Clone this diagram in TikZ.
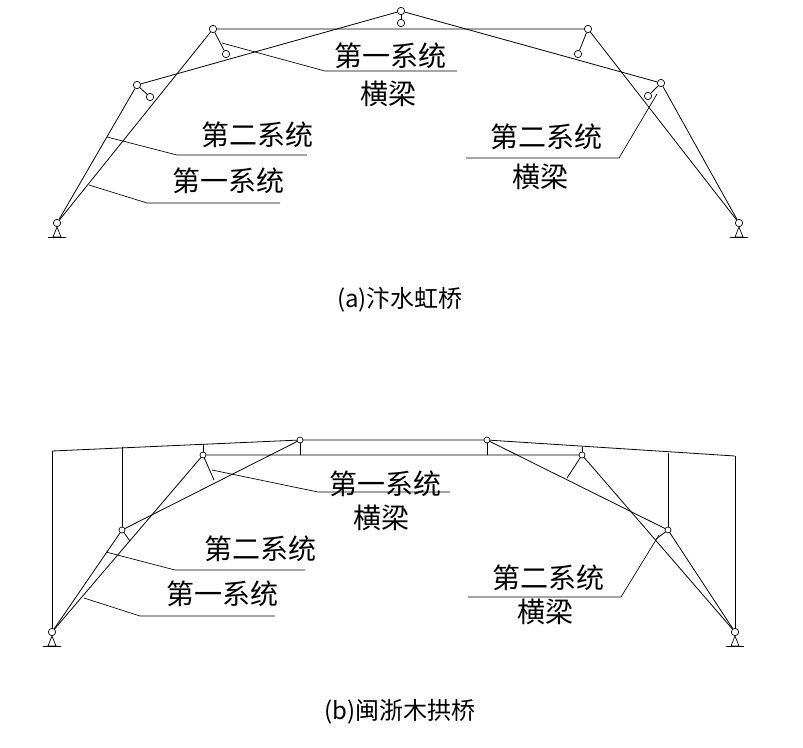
\documentclass[tikz,border=0pt]{standalone}
\usepackage{fontspec}
\newfontfamily\cjk{Noto Sans CJK SC}
\usetikzlibrary{positioning,calc}
\tikzset{
    member/.style = {line width=.6pt},
    hinge/.style = {circle, draw, fill=white, line width=.5pt, inner sep=0pt, minimum size=5.5pt},
    pt/.style = {inner sep=0pt, minimum size=0pt},
    leader/.style = {line width=.5pt},
    lbl/.style = {font=\cjk\fontsize{21}{24}\selectfont, inner sep=0pt},
    captxt/.style = {font=\cjk\fontsize{18}{20}\selectfont, inner sep=0pt}
}
\newcommand{\support}[1]{%
    \draw[line width=.5pt] (#1.south) -- ++(-4,10) -- ++(8,0) -- cycle;
    \draw[line width=.6pt] ($(#1.south)+(-9,10)$) -- ++(18,0);}
\begin{document}
\begin{tikzpicture}[x=.75pt, y=-.75pt]
    \useasboundingbox (0,0) rectangle (803,747);

    % (a)
    \node[hinge] (a-l) at (57,223) {};
    \node[hinge] (a-r) at (739,223) {};
    \support{a-l} \support{a-r}
    \node[hinge] (a-1l) at (213,29) {};
    \node[hinge] (a-1r) at (588,29) {};
    \node[hinge] (a-2l) at (137,85) {};
    \node[hinge] (a-2r) at (661,83) {};
    \node[hinge] (a-top) at (401,11) {};
    \node[hinge] (a-topb) at (401,23) {};
    \node[hinge] (a-k1) at (150,97) {};
    \node[hinge] (a-k2) at (226,54) {};
    \node[hinge] (a-k3) at (578,54) {};
    \node[hinge] (a-k4) at (648,96) {};
    \draw[member] (a-l) -- (a-1l) -- (a-1r) -- (a-r);
    \draw[member] (a-l) -- (a-2l) -- (a-top) -- (a-2r) -- (a-r);
    \draw[member] (a-top) -- (a-topb);
    \draw[member] (a-2l) -- (a-k1) (a-1l) -- (a-k2) (a-1r) -- (a-k3) (a-2r) -- (a-k4);

    \node[lbl] (a-t1) at (390,56) {第一系统};
    \node[lbl] (a-t2) at (388,94) {横梁};
    \node[lbl] (a-t3) at (257,135) {第二系统};
    \node[lbl] (a-t4) at (228,181) {第一系统};
    \node[lbl] (a-t5) at (546,137) {第二系统};
    \node[lbl] (a-t6) at (540,177) {横梁};
    \coordinate (a-c1) at (222,43);
    \coordinate (a-c3) at (107,137);
    \coordinate (a-c4) at (89,185);
    \coordinate (a-c5) at (657,94);
    \draw[leader] (a-c1) -- (325,71) -- (457,71);
    \draw[leader] (a-c3) -- (177,155) -- (307,155);
    \draw[leader] (a-c4) -- (147,203) -- (280,203);
    \draw[leader] (466,158) -- (619,158) -- (a-c5);
    \node[captxt] (a-cap) at (400,300) {(a)汴水虹桥};

    % (b)
    \node[hinge] (b-l) at (52,632) {};
    \node[hinge] (b-r) at (735,632) {};
    \support{b-l} \support{b-r}
    \node[pt] (b-1l) at (203,455) {};
    \node[pt] (b-1r) at (582,455) {};
    \node[pt] (b-2l) at (122,530) {};
    \node[pt] (b-2r) at (668,530) {};
    \node[pt] (b-tl) at (300,440) {};
    \node[pt] (b-tr) at (487,440) {};
    \node[pt] (b-ol) at (52,451) {};
    \node[pt] (b-or) at (735,456) {};
    \draw[member] (b-l) -- (b-1l) -- (b-1r) -- (b-r);
    \draw[member] (b-l) -- (b-2l) -- (b-tl) -- (b-tr) -- (b-2r) -- (b-r);
    \draw[member] (b-ol) -- (b-tl) (b-tr) -- (b-or);
    \draw[member] (b-ol) -- (b-l) (b-or) -- (b-r);
    \draw[member] (b-tl) -- (300,455) (b-tr) -- (487,455);
    \draw[member] (122,446.8) -- (b-2l) (203,443.5) -- (b-1l);
    \draw[member] (582,447.4) -- (b-1r) (668,452.6) -- (b-2r);
    \draw[member] (b-1l) -- (214,480) (b-2l) -- (130,541);
    \draw[member] (b-1r) -- (567,478) (b-2r) -- (656,539);
    \foreach \n in {b-1l,b-1r,b-2l,b-2r,b-tl,b-tr}
        \node[hinge, minimum size=4.5pt] at (\n) {};

    \node[lbl] (b-t1) at (385,484) {第一系统};
    \node[lbl] (b-t2) at (381,518) {横梁};
    \node[lbl] (b-t3) at (260,549) {第二系统};
    \node[lbl] (b-t4) at (222,594) {第一系统};
    \node[lbl] (b-t5) at (548,578) {第二系统};
    \node[lbl] (b-t6) at (545,612) {横梁};
    \coordinate (b-c1) at (212,470);
    \coordinate (b-c3) at (106,552);
    \coordinate (b-c4) at (84,598);
    \coordinate (b-c5) at (659,535);
    \draw[leader] (b-c1) -- (318,492) -- (450,492);
    \draw[leader] (b-c3) -- (175,570) -- (305,570);
    \draw[leader] (b-c4) -- (140,616) -- (275,616);
    \draw[leader] (468,597) -- (621,597) -- (b-c5);
    \node[captxt] (b-cap) at (400,712) {(b)闽浙木拱桥};
\end{tikzpicture}
\end{document}
